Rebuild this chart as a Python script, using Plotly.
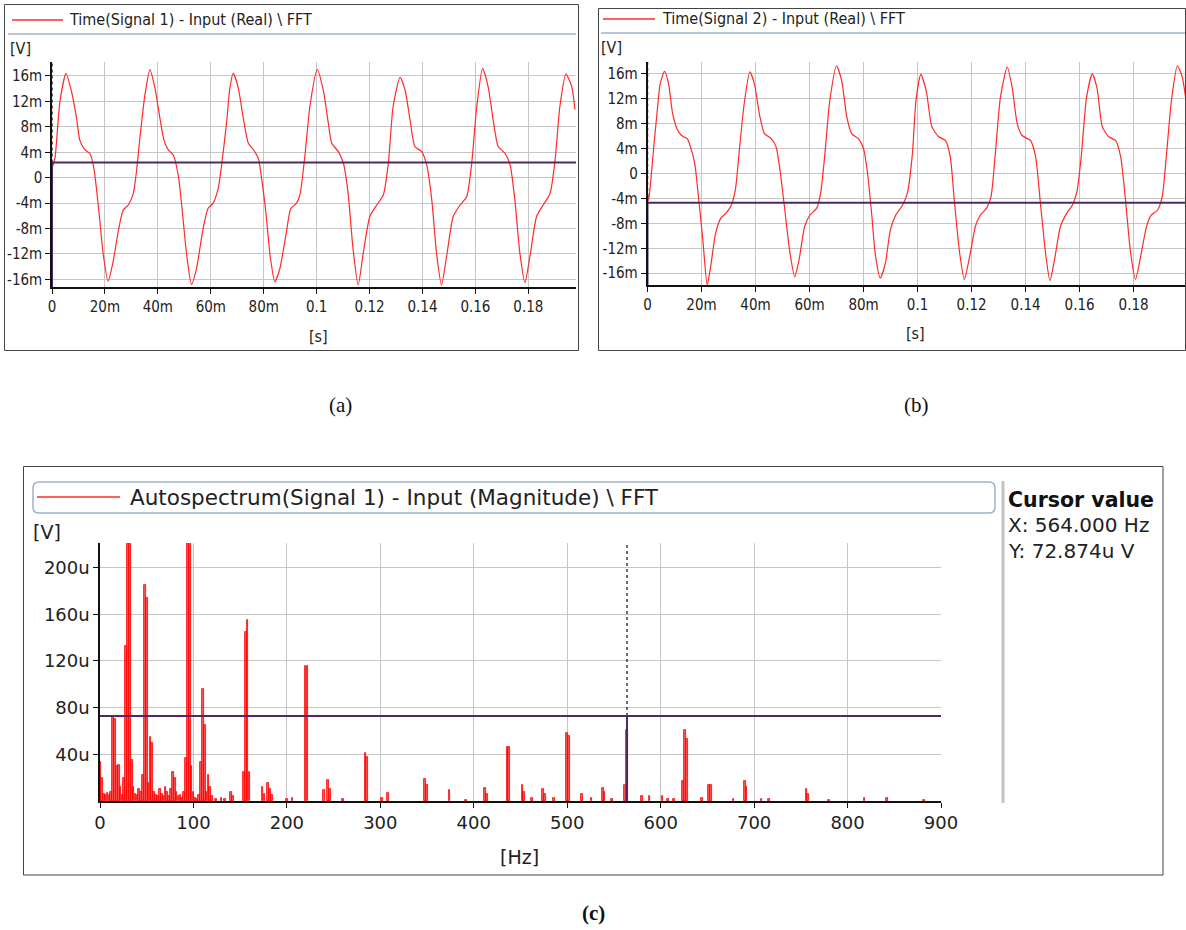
import plotly.graph_objects as go

W, H = 1186, 930

# ---------------- data ----------------
# (a) Time(Signal 1): time in ms, voltage in mV
t1 = [0, 1.1, 3.0, 5.3, 7.4, 9.3, 10.5, 12.4, 14.3, 15.6, 16.8, 18.1, 19.4, 21.2, 23.1, 25.0, 26.9, 28.8,
      30.7, 31.9, 33.2, 35.1, 37.0, 38.9, 40.8, 42.3, 43.9, 45.8, 47.7, 49.0, 50.9, 52.7, 54.6, 57.1,
      59.0, 60.9, 62.8, 64.1, 66.0, 67.2, 68.5, 70.4, 72.3, 74.2, 76.1, 78.0, 79.2, 80.8, 82.4, 84.2,
      86.1, 88.4, 90.2, 92.4, 93.7, 95.6, 97.5, 100.2, 102.5, 104.4, 105.7, 108.2, 110.1, 111.9, 113.8,
      115.7, 117.6, 120.1, 122.7, 125.2, 127.1, 128.9, 131.5, 133.4, 135.3, 137.1, 139.7, 141.6, 143.5,
      145.3, 147.2, 149.1, 151.6, 154.2, 156.7, 158.6, 160.5, 162.7, 164.8, 166.7, 168.6, 171.2, 173.1,
      174.9, 176.8, 178.7, 180.6, 183.1, 185.6, 188.2, 190.1, 191.9, 194.2, 196.4, 197.6]
v1 = [1.5, 3.0, 12.0, 16.4, 13.5, 9.3, 5.9, 4.4, 3.8, 2.0, -1.7, -6.9, -12.2, -16.3, -13.2, -8.5, -5.1, -4.3,
      -2.5, 0.9, 6.2, 13.0, 17.0, 14.1, 9.3, 5.9, 4.4, 3.6, 0.4, -4.3, -12.2, -16.8, -14.3, -8.0,
      -4.8, -4.0, -1.7, 2.0, 8.8, 14.1, 16.4, 14.1, 9.3, 5.4, 4.4, 3.0, -0.1, -5.4, -12.2, -16.4,
      -14.3, -9.0, -4.9, -4.0, -2.7, 3.6, 11.4, 17.0, 13.8, 8.6, 5.4, 4.1, 2.3, -2.5, -11.4,
      -16.9, -11.9, -6.1, -4.3, -2.7, 2.3, 11.2, 15.8, 13.8, 9.1, 4.9, 4.1, 2.0, -3.5,
      -11.9, -16.9, -12.4, -6.1, -4.3, -3.0, 2.3, 11.2, 17.2, 14.3, 9.1, 4.9, 3.8, 2.0,
      -3.5, -11.9, -16.5, -12.4, -6.1, -4.3, -2.5, 2.8, 11.2, 16.3, 14.3, 10.7]

# (b) Time(Signal 2): time in ms, voltage in mV
t2 = [0, 0.4, 1.0, 2.2, 3.5, 4.7, 6.3, 7.8, 9.3, 10.9, 12.6, 14.7, 15.9, 17.5, 19.0, 20.5, 22.1, 23.4,
      25.2, 27.1, 29.0, 30.8, 32.5, 34.0, 35.8, 37.9, 39.6, 41.4, 43.3, 45.8, 47.6, 48.9, 50.7, 52.6,
      54.5, 56.1, 58.2, 60.1, 62.6, 64.1, 65.7, 67.5, 70.0, 71.9, 73.8, 75.6, 78.1, 80.0, 81.5, 83.1,
      84.3, 86.2, 88.1, 89.9, 91.9, 94.4, 96.2, 98.1, 99.4, 101.2, 103.2, 105.3, 107.8, 110.3, 112.1,
      113.6, 115.6, 117.3, 119.3, 121.4, 123.2, 125.5, 127.2, 128.8, 130.7, 133.2, 135.0, 136.9, 138.7,
      141.8, 143.7, 145.5, 147.4, 149.0, 150.7, 152.9, 155.2, 157.3, 159.1, 160.6, 162.6, 164.7, 166.5,
      168.4, 170.8, 173.3, 175.2, 177.0, 178.9, 180.7, 182.6, 184.8, 186.5, 188.8, 190.6, 192.2, 194.0,
      196.2, 198.0, 199.7]
v2 = [-3.2, -4.3, -2.1, 3.7, 9.6, 14.4, 16.4, 14.4, 9.6, 7.2, 6.1, 5.6, 4.3, 1.6, -4.3, -10.7, -17.9, -14.9,
      -9.6, -7.2, -6.4, -5.3, -2.7, 3.7, 11.2, 16.3, 14.4, 9.6, 6.4, 5.6, 4.3, 1.1, -5.3, -12.3,
      -16.6, -13.9, -8.5, -6.7, -5.6, -3.2, 3.2, 11.7, 17.3, 14.9, 9.1, 6.4, 5.6, 4.0, 0.0, -6.9,
      -12.8, -16.8, -14.4, -9.1, -6.7, -5.1, -3.2, 3.2, 11.7, 15.9, 13.3, 7.5, 5.9, 5.3, 2.7,
      -4.3, -12.8, -17.0, -13.3, -8.5, -6.7, -5.6, -3.7, 3.2, 12.3, 17.1, 13.9, 8.0, 6.1,
      5.3, 2.7, -4.8, -12.8, -17.2, -13.9, -8.5, -6.4, -5.1, -2.7, 2.7, 12.3, 16.0, 13.6,
      7.5, 5.9, 5.3, 2.7, -4.3, -12.8, -17.0, -13.3, -8.5, -6.7, -5.9, -3.7, 3.2, 11.7,
      17.3, 15.5, 10.7]

# (c) Autospectrum(Signal 1): frequency in Hz, magnitude in uV (values > 221 are clipped by the axis)
freq = [0, 2, 4, 6, 8, 10, 12, 14, 16, 18, 20, 22, 24, 26, 28, 30, 32, 34, 36, 38, 40, 42, 44, 46, 48, 50,
        52, 54, 56, 58, 60, 62, 64, 66, 68, 70, 72, 74, 76, 78, 80, 82, 84, 86, 88, 90, 92, 94, 96, 98,
        100, 102, 104, 106, 108, 110, 112, 114, 116, 118, 120, 124, 130, 134, 140, 142, 154, 156, 158,
        160, 174, 176, 180, 182, 184, 200, 206, 220, 222, 240, 244, 246, 260, 284, 286, 302, 308, 348,
        350, 374, 392, 412, 414, 436, 438, 452, 454, 462, 474, 476, 486, 500, 502, 516, 526, 538, 540,
        548, 562, 564, 580, 588, 602, 608, 614, 624, 626, 628, 644, 652, 654, 678, 690, 692, 708, 716,
        756, 758, 780, 818, 842, 882]
amp = [33, 20, 6, 5, 7, 5, 8, 72, 70, 30, 31, 12, 5, 20, 133, 400, 400, 35, 12, 6, 5, 10, 8, 22, 185, 174,
       15, 55, 50, 8, 5, 4, 10, 6, 4, 12, 8, 4, 10, 25, 20, 8, 4, 5, 3, 8, 37, 400, 400, 30,
       8, 3, 2, 5, 33, 96, 65, 8, 22, 12, 4, 2, 3, 2, 8, 4, 25, 145, 155,
       25, 12, 6, 15, 10, 5, 2, 3, 116, 116, 9, 18, 10, 2, 41, 38, 3, 7, 19,
       14, 9, 1, 11, 6, 46, 46, 14, 8, 3, 10, 6, 3, 58, 56, 6, 3, 11, 8,
       2, 14, 61, 4, 4, 4, 2, 2, 17, 61, 53, 3, 14, 14, 2, 17, 12, 2, 2,
       10, 6, 1, 3, 3, 1]

# cursor readings
cursor_a = 2.4        # mV
cursor_b = -4.7       # mV
cursor_x = 564.0      # Hz
cursor_y = 72.874     # uV

time_ticks = [0, 20, 40, 60, 80, 100, 120, 140, 160, 180]
time_labels = ["0", "20m", "40m", "60m", "80m", "0.1", "0.12", "0.14", "0.16", "0.18"]
volt_ticks = [16, 12, 8, 4, 0, -4, -8, -12, -16]
volt_labels = ["16m", "12m", "8m", "4m", "0", "-4m", "-8m", "-12m", "-16m"]
freq_ticks = [0, 100, 200, 300, 400, 500, 600, 700, 800, 900]
freq_labels = ["0", "100", "200", "300", "400", "500", "600", "700", "800", "900"]
spec_ticks = [40, 80, 120, 160, 200]
spec_labels = ["40u", "80u", "120u", "160u", "200u"]

# ---------------- styling ----------------
FN = "DejaVu Sans Condensed, Liberation Sans Narrow, DejaVu Sans, sans-serif"
FV = "DejaVu Sans, Verdana, sans-serif"
FS = "Liberation Serif, DejaVu Serif, serif"
RED = "#ff2a2a"
PURPLE = "#4d2a63"
GRID = "#c6c6c6"
TXT = "#222222"

XA_RANGE = [0, 198]
XB_RANGE = [0, 199.4]
YA_RANGE = [-17.2, 18.2]
YB_RANGE = [-17.9, 17.9]
XC_RANGE = [0, 900]
YC_RANGE = [0, 221]


def px(x):
    return x / W


def py(y):
    return 1 - y / H


fig = go.Figure()

# waveforms
fig.add_trace(go.Scatter(x=t1, y=v1, mode="lines", xaxis="x", yaxis="y",
                         line=dict(color=RED, width=1.2, shape="spline", smoothing=0.6)))
fig.add_trace(go.Scatter(x=t2, y=v2, mode="lines", xaxis="x2", yaxis="y2",
                         line=dict(color=RED, width=1.2, shape="spline", smoothing=0.6)))
# spectrum
fig.add_trace(go.Bar(x=freq, y=amp, width=1.8, xaxis="x3", yaxis="y3",
                     marker=dict(color="rgba(255,30,30,0.75)", line=dict(color="#ff0000", width=0.8))))

# cursors (a)
fig.add_trace(go.Scatter(x=[0, 0], y=[cursor_a, YA_RANGE[1]], mode="lines", xaxis="x", yaxis="y",
                         line=dict(color="#333333", width=1.5, dash="dot")))
fig.add_trace(go.Scatter(x=[0, 0], y=[YA_RANGE[0], cursor_a], mode="lines", xaxis="x", yaxis="y",
                         line=dict(color=PURPLE, width=2)))
fig.add_trace(go.Scatter(x=XA_RANGE, y=[cursor_a, cursor_a], mode="lines", xaxis="x", yaxis="y",
                         line=dict(color=PURPLE, width=2)))
# cursors (b)
fig.add_trace(go.Scatter(x=[0, 0], y=[cursor_b, YB_RANGE[1]], mode="lines", xaxis="x2", yaxis="y2",
                         line=dict(color="#333333", width=1.5, dash="dot")))
fig.add_trace(go.Scatter(x=[0, 0], y=[YB_RANGE[0], cursor_b], mode="lines", xaxis="x2", yaxis="y2",
                         line=dict(color=PURPLE, width=2)))
fig.add_trace(go.Scatter(x=XB_RANGE, y=[cursor_b, cursor_b], mode="lines", xaxis="x2", yaxis="y2",
                         line=dict(color=PURPLE, width=2)))
# cursors (c)
fig.add_trace(go.Scatter(x=[cursor_x, cursor_x], y=[cursor_y, YC_RANGE[1]], mode="lines", xaxis="x3", yaxis="y3",
                         line=dict(color="#4a3050", width=1.5, dash="dot")))
fig.add_trace(go.Scatter(x=[cursor_x, cursor_x], y=[0, cursor_y], mode="lines", xaxis="x3", yaxis="y3",
                         line=dict(color=PURPLE, width=2)))
fig.add_trace(go.Scatter(x=XC_RANGE, y=[cursor_y, cursor_y], mode="lines", xaxis="x3", yaxis="y3",
                         line=dict(color=PURPLE, width=2)))

axis_common = dict(showline=True, linecolor="#111111", linewidth=1.5, ticks="outside", ticklen=5,
                   tickcolor="#111111", tickwidth=1.2, showgrid=True, gridcolor=GRID, gridwidth=1.2,
                   zeroline=False, fixedrange=True, automargin=False)

fig.update_layout(
    width=W, height=H, autosize=False,
    margin=dict(l=0, r=0, t=0, b=0, pad=0, autoexpand=False),
    paper_bgcolor="white", plot_bgcolor="white",
    showlegend=False, bargap=0,
    xaxis=dict(domain=[px(52), px(576)], anchor="y", range=XA_RANGE, tickvals=time_ticks,
               ticktext=time_labels, tickfont=dict(family=FN, size=15, color=TXT), **axis_common),
    yaxis=dict(domain=[py(287), py(62)], anchor="x", range=YA_RANGE, tickvals=volt_ticks,
               ticktext=volt_labels, tickfont=dict(family=FN, size=15, color=TXT), **axis_common),
    xaxis2=dict(domain=[px(647.5), 1.0], anchor="y2", range=XB_RANGE, tickvals=time_ticks,
                ticktext=time_labels, tickfont=dict(family=FN, size=15, color=TXT), **axis_common),
    yaxis2=dict(domain=[py(285), py(62)], anchor="x2", range=YB_RANGE, tickvals=volt_ticks,
                ticktext=volt_labels, tickfont=dict(family=FN, size=15, color=TXT), **axis_common),
    xaxis3=dict(domain=[px(100), px(941)], anchor="y3", range=XC_RANGE, tickvals=freq_ticks,
                ticktext=freq_labels, tickfont=dict(family=FV, size=18, color=TXT), **axis_common),
    yaxis3=dict(domain=[py(801), py(543)], anchor="x3", range=YC_RANGE, tickvals=spec_ticks,
                ticktext=spec_labels, tickfont=dict(family=FV, size=18, color=TXT), **axis_common),
)

shapes = []
# panel borders
shapes.append(dict(type="rect", xref="paper", yref="paper", x0=px(4.5), x1=px(578.5), y0=py(350.5), y1=py(4.5),
                   line=dict(color="#444444", width=1)))
shapes.append(dict(type="rect", xref="paper", yref="paper", x0=px(598.5), x1=px(1185.5), y0=py(350.5), y1=py(8.5),
                   line=dict(color="#444444", width=1)))
shapes.append(dict(type="rect", xref="paper", yref="paper", x0=px(23.5), x1=px(1163), y0=py(875), y1=py(466.5),
                   line=dict(color="#444444", width=1)))
# legend headers (a), (b)
shapes.append(dict(type="line", xref="paper", yref="paper", x0=px(12), x1=px(63), y0=py(20), y1=py(20),
                   line=dict(color=RED, width=1.5)))
shapes.append(dict(type="line", xref="paper", yref="paper", x0=px(8), x1=px(576), y0=py(34), y1=py(34),
                   line=dict(color="#9fb0cc", width=1.5)))
shapes.append(dict(type="line", xref="paper", yref="paper", x0=px(603), x1=px(655), y0=py(19), y1=py(19),
                   line=dict(color=RED, width=1.5)))
shapes.append(dict(type="line", xref="paper", yref="paper", x0=px(601), x1=px(1185), y0=py(33), y1=py(33),
                   line=dict(color="#9fb0cc", width=1.5)))
# legend (c): rounded box
x0, x1, y0, y1, r = px(33), px(995), py(513), py(482), 6
rx, ry = r / W, r / H
path = (f"M {x0+rx},{y1} L {x1-rx},{y1} Q {x1},{y1} {x1},{y1-ry} L {x1},{y0+ry} Q {x1},{y0} {x1-rx},{y0} "
        f"L {x0+rx},{y0} Q {x0},{y0} {x0},{y0+ry} L {x0},{y1-ry} Q {x0},{y1} {x0+rx},{y1} Z")
shapes.append(dict(type="path", xref="paper", yref="paper", path=path, line=dict(color="#9fb0cc", width=1.5)))
shapes.append(dict(type="line", xref="paper", yref="paper", x0=px(37), x1=px(120), y0=py(497), y1=py(497),
                   line=dict(color=RED, width=1.5)))
# cursor panel separator
shapes.append(dict(type="line", xref="paper", yref="paper", x0=px(1003), x1=px(1003), y0=py(803), y1=py(481),
                   line=dict(color="#c4c4c4", width=3)))
fig.update_layout(shapes=shapes)


def ann(text, x, y, xanchor="left", yanchor="middle", family=FN, size=15, color=TXT, bold=False):
    if bold:
        text = f"<b>{text}</b>"
    return dict(text=text, x=px(x), y=py(y), xref="paper", yref="paper", xanchor=xanchor, yanchor=yanchor,
                showarrow=False, font=dict(family=family, size=size, color=color))


annotations = [
    ann("Time(Signal 1) - Input (Real) \\ FFT", 67, 20, size=16),
    ann("Time(Signal 2) - Input (Real) \\ FFT", 660, 19, size=16),
    ann("[V]", 8, 48, size=16),
    ann("[V]", 599, 47, size=16),
    ann("[s]", 318, 337, xanchor="center", size=16),
    ann("[s]", 915, 333, xanchor="center", size=16),
    ann("Autospectrum(Signal 1) - Input (Magnitude) \\ FFT", 128, 497, family=FV, size=21.5),
    ann("[V]", 31, 532, family=FV, size=19),
    ann("[Hz]", 519, 857, xanchor="center", family=FV, size=19),
    ann("Cursor value", 1006, 500, family=FV, size=20.5, bold=True, color="#111111"),
    ann("X: 564.000 Hz", 1006, 525, family=FV, size=20),
    ann("Y: 72.874u V", 1006, 551, family=FV, size=20),
    ann("(a)", 340, 405, xanchor="center", family=FS, size=21, color="#111111"),
    ann("(b)", 916, 405, xanchor="center", family=FS, size=21, color="#111111"),
    ann("(c)", 593, 913, xanchor="center", family=FS, size=21, color="#111111", bold=True),
]
fig.update_layout(annotations=annotations)

fig.write_html("out.html", config={"displayModeBar": False, "responsive": False},
               post_script="document.body.style.margin='0px';document.body.style.padding='0px';"
                           "document.body.style.overflow='hidden';"
                           "document.documentElement.style.overflow='hidden';")
